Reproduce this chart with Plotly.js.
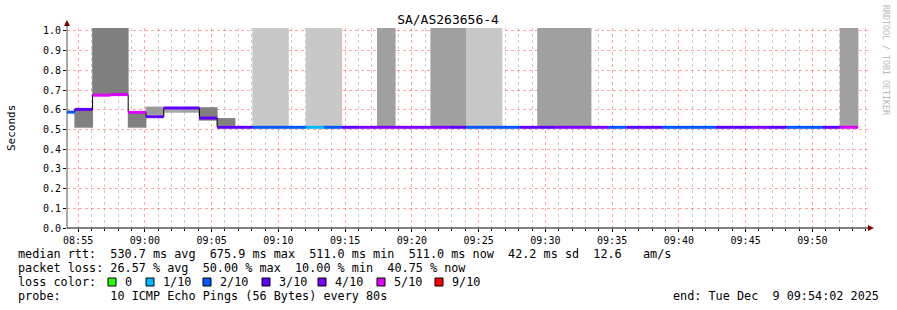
<!DOCTYPE html>
<html><head><meta charset="utf-8">
<script src="https://cdn.plot.ly/plotly-3.0.1.min.js"></script>
<style>html,body{margin:0;padding:0;background:#fff}#chart{width:897px;height:310px}</style>
</head><body><div id="chart"></div>
<script>
// ---- data (one entry per 80 s step; first step is partly off the left edge)
const firstStepStart = '2025-12-09T08:53:25';
const stepSeconds = 80;
const medianRtt = [0.588, 0.602, 0.674, 0.677, 0.587, 0.565, 0.609, 0.609, 0.558, 0.511,
  0.511, 0.511, 0.511, 0.511, 0.511, 0.511, 0.511, 0.511, 0.511, 0.511,
  0.511, 0.511, 0.511, 0.511, 0.511, 0.511, 0.511, 0.511, 0.511, 0.511,
  0.511, 0.511, 0.511, 0.511, 0.511, 0.511, 0.511, 0.511, 0.511, 0.511,
  0.511, 0.511, 0.511, 0.511, 0.511];
const lossCount = [2, 3, 5, 5, 5, 3, 3, 3, 3, 3,
  3, 2, 2, 2, 1, 2, 3, 4, 4, 4,
  4, 4, 3, 2, 2, 2, 3, 3, 4, 4,
  4, 2, 3, 3, 2, 2, 2, 3, 3, 4,
  3, 2, 2, 3, 5];
const smokeLow = [null, 0.509, 0.674, 0.677, 0.509, 0.574, 0.585, 0.585, 0.545, 0.518,
  null, 0.511, 0.511, null, 0.511, 0.511, null, null, 0.511, null,
  null, 0.511, 0.511, 0.511, 0.511, null, null, 0.511, 0.511, 0.511,
  null, null, null, null, null, null, null, null, null, null,
  null, null, null, null, 0.511];
const smokeHigh = [null, 0.602, 1.5, 1.5, 0.590, 0.616, 0.611, 0.611, 0.613, 0.558,
  null, 1.5, 1.5, null, 1.5, 1.5, null, null, 1.5, null,
  null, 1.5, 1.5, 1.5, 1.5, null, null, 1.5, 1.5, 1.5,
  null, null, null, null, null, null, null, null, null, null,
  null, null, null, null, 1.5];
const smokeShade = [null, '#808080', '#7f7f7f', '#7f7f7f', '#808080', '#9a9a9a', '#a8a8a8', '#a2a2a2', '#808080', '#808080',
  null, '#c8c8c8', '#c8c8c8', null, '#c8c8c8', '#c8c8c8', null, null, '#a0a0a0', null,
  null, '#a0a0a0', '#a0a0a0', '#c8c8c8', '#c8c8c8', null, null, '#a0a0a0', '#a0a0a0', '#a0a0a0',
  null, null, null, null, null, null, null, null, null, null,
  null, null, null, null, '#a0a0a0'];
const lossLabels = ['0', '1/10', '2/10', '3/10', '4/10', '5/10', '9/10'];
const lossLevels = [0, 1, 2, 3, 4, 5, 9];
const lossColors = ['#26ff00', '#00b8ff', '#0059ff', '#5e00ff', '#7e00ff', '#dd00ff', '#ff0000'];
const titleText = 'SA/AS263656-4';
const legendLines = [
  'median rtt:  530.7 ms avg  675.9 ms max  511.0 ms min  511.0 ms now  42.2 ms sd  12.6   am/s',
  'packet loss: 26.57 % avg  50.00 % max  10.00 % min  40.75 % now',
  'loss color:',
  'probe:       10 ICMP Echo Pings (56 Bytes) every 80s'
];
const endText = 'end: Tue Dec  9 09:54:02 2025';

// ---- helpers
const t0 = new Date(firstStepStart + 'Z').getTime();
function fmt(ms){ return new Date(ms).toISOString().replace('T',' ').slice(0,19); }
const stepStart = medianRtt.map((_, i) => t0 + i * stepSeconds * 1000);
const stepMid = stepStart.map(s => fmt(s + stepSeconds * 500));

const W = 897, H = 310, L = 67, R = 868, T = 28, B = 228;
const px = x => (x - L) / (R - L);
const py = y => (B - y) / (B - T);
const mono = 'DejaVu Sans Mono, monospace';

const traces = [];
// smoke
const sIdx = smokeLow.map((v, i) => v === null ? -1 : i).filter(i => i >= 0);
traces.push({
  type: 'bar', x: sIdx.map(i => stepMid[i]), base: sIdx.map(i => smokeLow[i]),
  y: sIdx.map(i => smokeHigh[i] - smokeLow[i]), width: stepSeconds * 1000 * 1.045,
  marker: {color: sIdx.map(i => smokeShade[i]), line: {width: 0}},
  hoverinfo: 'skip', showlegend: false
});
// black median step outline
traces.push({
  type: 'scatter', mode: 'lines',
  x: stepStart.map(fmt).concat([fmt(stepStart[stepStart.length - 1] + stepSeconds * 1000)]),
  y: medianRtt.concat([medianRtt[medianRtt.length - 1]]),
  line: {shape: 'hv', color: '#000', width: 1}, hoverinfo: 'skip', showlegend: false
});
// coloured median per loss level
lossLevels.forEach((lv, c) => {
  const xs = [], ys = [];
  medianRtt.forEach((m, i) => {
    if (lossCount[i] === lv) {
      xs.push(fmt(stepStart[i]), fmt(stepStart[i] + stepSeconds * 1000), null);
      ys.push(m, m, null);
    }
  });
  if (xs.length) traces.push({type: 'scatter', mode: 'lines', x: xs, y: ys,
    line: {color: lossColors[c], width: 3}, hoverinfo: 'skip', showlegend: false});
});

const annotations = [];
annotations.push({xref: 'paper', yref: 'paper', x: px(11), y: py(128), xanchor: 'center', yanchor: 'middle',
  text: 'Seconds', showarrow: false, textangle: -90, font: {family: mono, size: 11, color: '#000'}});
annotations.push({xref: 'paper', yref: 'paper', x: px(886), y: py(60), xanchor: 'center', yanchor: 'middle',
  text: 'RRDTOOL / TOBI OETIKER', showarrow: false, textangle: 90, font: {family: mono, size: 8.3, color: '#b8b8b8'}});
const lineY = [254, 268, 282, 296];
legendLines.forEach((s, i) => annotations.push({xref: 'paper', yref: 'paper', x: px(16), y: py(lineY[i]),
  xanchor: 'left', yanchor: 'middle', text: s.replace(/ /g, '&nbsp;'), showarrow: false,
  font: {family: mono, size: 11.8, color: '#000'}}));
annotations.push({xref: 'paper', yref: 'paper', x: px(881), y: py(296), xanchor: 'right', yanchor: 'middle',
  text: endText.replace(/ /g, '&nbsp;'), showarrow: false, font: {family: mono, size: 11.8, color: '#000'}});
const boxX = [108, 146, 203, 262, 318, 377, 435];
const shapes = [];
lossLabels.forEach((lab, i) => {
  shapes.push({type: 'rect', xref: 'paper', yref: 'paper', x0: px(boxX[i]), x1: px(boxX[i] + 8),
    y0: py(278), y1: py(286), fillcolor: lossColors[i], line: {color: '#000', width: 1}});
  annotations.push({xref: 'paper', yref: 'paper', x: px(boxX[i] + 15), y: py(282), xanchor: 'left', yanchor: 'middle',
    text: lab, showarrow: false, font: {family: mono, size: 11.8, color: '#000'}});
});
// axis lines and arrows
shapes.push({type: 'line', xref: 'paper', yref: 'paper', x0: px(L), x1: px(869), y0: 0, y1: 0, line: {color: '#000', width: 1}});
shapes.push({type: 'line', xref: 'paper', yref: 'paper', x0: 0, x1: 0, y0: 0, y1: py(23), line: {color: '#555', width: 1}});
shapes.push({type: 'path', xref: 'paper', yref: 'paper',
  path: `M ${px(64)} ${py(26)} L ${px(70)} ${py(26)} L ${px(67)} ${py(20)} Z`, fillcolor: '#800000', line: {width: 0}});
shapes.push({type: 'path', xref: 'paper', yref: 'paper',
  path: `M ${px(868)} ${py(225)} L ${px(868)} ${py(231)} L ${px(874)} ${py(228)} Z`, fillcolor: '#800000', line: {width: 0}});

const layout = {
  width: W, height: H, margin: {l: L, r: W - R, t: T, b: H - B, autoexpand: false},
  paper_bgcolor: '#fff', plot_bgcolor: '#fff',
  title: {text: titleText, x: 448 / W, xref: 'container', xanchor: 'center', y: 1 - 19 / H, yref: 'container', yanchor: 'middle',
    font: {family: mono, size: 13, color: '#000'}},
  xaxis: {type: 'date', range: ['2025-12-09 08:54:10', '2025-12-09 09:54:10'],
    tick0: '2025-12-09 08:55:00', dtick: 300000, tickformat: '%H:%M',
    showgrid: true, gridcolor: 'rgba(255,0,0,0.35)', griddash: 'dot', gridwidth: 1,
    ticks: 'outside', ticklen: 3, tickcolor: '#000', showline: false, zeroline: false,
    tickfont: {family: mono, size: 10, color: '#000'},
    minor: {dtick: 60000, showgrid: true, gridcolor: 'rgba(0,0,0,0.2)', griddash: 'dot', gridwidth: 1, ticks: 'outside', ticklen: 2, tickcolor: '#000'}},
  yaxis: {range: [0, 1.015], dtick: 0.1, tick0: 0, tickformat: '.1f',
    showgrid: true, gridcolor: 'rgba(255,0,0,0.35)', griddash: 'dot', gridwidth: 1,
    ticks: 'outside', ticklen: 3, tickcolor: '#000', showline: false, zeroline: false,
    tickfont: {family: mono, size: 10, color: '#000'}},
  barmode: 'overlay', showlegend: false, annotations, shapes
};
Plotly.newPlot('chart', traces, layout, {staticPlot: true, displayModeBar: false});
</script></body></html>
